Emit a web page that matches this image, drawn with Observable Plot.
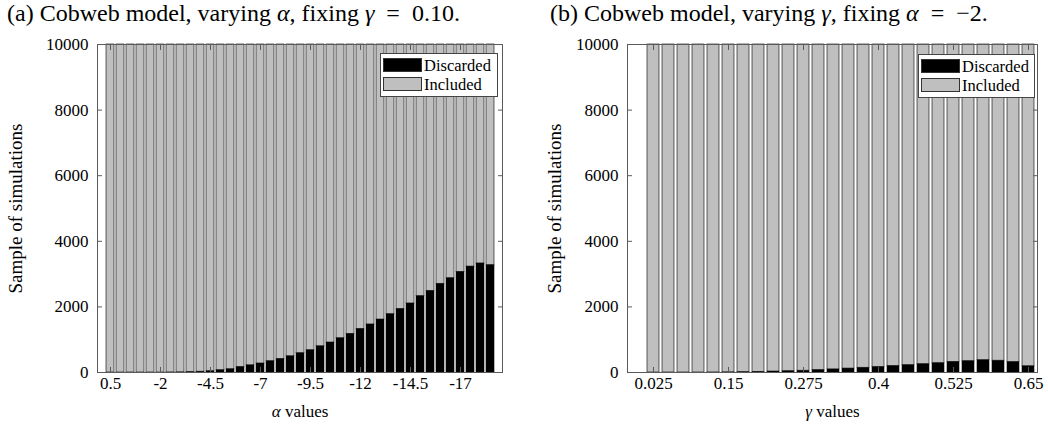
<!DOCTYPE html>
<html>
<head>
<meta charset="utf-8">
<script src="https://cdn.jsdelivr.net/npm/d3@7"></script>
<script src="https://cdn.jsdelivr.net/npm/@observablehq/plot@0.6"></script>
<style>
  html, body { margin: 0; padding: 0; background: #fff; }
  #root { position: relative; width: 1048px; height: 434px; font-family: "Liberation Serif", "Times New Roman", serif; color: #000; overflow: hidden; }
  .title { position: absolute; top: 0; height: 26px; line-height: 26px; font-size: 24px; text-align: left; white-space: nowrap; }
  .panel { position: absolute; top: 26px; width: 524px; height: 408px; }
  .panel svg { font-family: "Liberation Serif", "Times New Roman", serif !important; font-size: 17px !important; }
  .panel svg text { font-family: "Liberation Serif", "Times New Roman", serif !important; }
  .legend { position: absolute; background: #fff; border: 1px solid #444; box-sizing: border-box; font-size: 16.5px; }
  .row { position: absolute; left: 2px; height: 16px; line-height: 16px; white-space: nowrap; }
  .sw { display: inline-block; width: 39px; height: 14px; border: 1px solid #333; vertical-align: top; margin-right: 2px; box-sizing: border-box; }
</style>
</head>
<body>
<div id="root">
  <div class="title" style="left:7px">(a) Cobweb model, varying <i>α</i>, fixing <i>γ</i>&ensp;=&ensp;0.10.</div>
  <div class="title" style="left:550px">(b) Cobweb model, varying <i>γ</i>, fixing <i>α</i>&ensp;=&ensp;−2.</div>
  <div class="panel" id="left" style="left:0px"></div>
  <div class="panel" id="right" style="left:524px"></div>
  <div class="legend" style="left:380px;top:53px;width:118px;height:44px">
    <div class="row" style="top:4px"><span class="sw" style="background:#000"></span>Discarded</div>
    <div class="row" style="top:23px"><span class="sw" style="background:#bfbfbf"></span>Included</div>
  </div>
  <div class="legend" style="left:918px;top:54px;width:117px;height:44px">
    <div class="row" style="top:4px"><span class="sw" style="background:#000"></span>Discarded</div>
    <div class="row" style="top:23px"><span class="sw" style="background:#bfbfbf"></span>Included</div>
  </div>
</div>
<script>
// ---- data ----
const alphaLabels = ["0.5","0","-0.5","-1","-1.5","-2","-2.5","-3","-3.5","-4",
  "-4.5","-5","-5.5","-6","-6.5","-7","-7.5","-8","-8.5","-9",
  "-9.5","-10","-10.5","-11","-11.5","-12","-12.5","-13","-13.5","-14",
  "-14.5","-15","-15.5","-16","-16.5","-17","-17.5","-18","-18.5"];
const alphaDiscarded = [0,0,0,0,0,0,2,5,15,25,
  40,70,100,170,220,275,345,415,495,590,
  680,800,915,1045,1180,1330,1465,1615,1780,1940,
  2105,2330,2490,2705,2875,3070,3230,3325,3275];
const alphaIncluded = [10000,10000,10000,10000,10000,10000,9998,9995,9985,9975,
  9960,9930,9900,9830,9780,9725,9655,9585,9505,9410,
  9320,9200,9085,8955,8820,8670,8535,8385,8220,8060,
  7895,7670,7510,7295,7125,6930,6770,6675,6725];
const alphaTicks = ["0.5","-2","-4.5","-7","-9.5","-12","-14.5","-17"];

const gammaLabels = ["0.025","0.05","0.075","0.1","0.125","0.15","0.175","0.2","0.225","0.25",
  "0.275","0.3","0.325","0.35","0.375","0.4","0.425","0.45","0.475","0.5",
  "0.525","0.55","0.575","0.6","0.625","0.65"];
const gammaDiscarded = [0,0,0,0,2,5,10,20,30,40,
  55,75,95,120,145,170,200,225,255,285,
  325,345,375,360,320,190];
const gammaIncluded = [10000,10000,10000,10000,9998,9995,9990,9980,9970,9960,
  9945,9925,9905,9880,9855,9830,9800,9775,9745,9715,
  9675,9655,9625,9640,9680,9810];
const gammaTicks = ["0.025","0.15","0.275","0.4","0.525","0.65"];

const yTicks = [0,2000,4000,6000,8000,10000];
const seriesNames = ["Discarded","Included"];
const seriesColors = ["#000000","#bfbfbf"];
const yLabel = "Sample of simulations";

function buildTable(labels, disc, incl) {
  const rows = [];
  labels.forEach((l, i) => {
    rows.push({label: l, type: seriesNames[0], value: disc[i]});
    rows.push({label: l, type: seriesNames[1], value: incl[i]});
  });
  return rows;
}

const axisColor = "#5a5a5a";

function makeChart({labels, disc, incl, ticks, xLabel, marginLeft, marginRight, paddingOuter, align, yLabelOffset}) {
  const table = buildTable(labels, disc, incl);
  const chart = Plot.plot({
    width: 524,
    height: 408,
    marginLeft, marginRight,
    marginTop: 18,
    marginBottom: 62,
    style: "font-family: 'Liberation Serif', 'Times New Roman', serif; font-size: 17px; color: #000; background: #fff;",
    x: {type: "band", domain: labels, paddingInner: 0.2, paddingOuter, align},
    y: {domain: [0, 10000]},
    color: {domain: seriesNames, range: seriesColors},
    marks: [
      Plot.barY(table, {x: "label", y: "value", fill: "type", stroke: "#000", strokeWidth: 0.6}),
      Plot.frame({stroke: axisColor, strokeWidth: 1}),
      Plot.axisY({ticks: yTicks, tickFormat: "d", tickSize: -5, tickPadding: 14, stroke: axisColor, fill: "#000",
        label: yLabel, labelAnchor: "center", labelArrow: "none", labelOffset: yLabelOffset}),
      Plot.axisY({anchor: "right", ticks: yTicks, tickSize: -5, tickFormat: () => "", stroke: axisColor, label: null}),
      Plot.axisX({ticks, tickSize: -5, tickPadding: 9, stroke: axisColor, fill: "#000",
        label: xLabel, labelAnchor: "center", labelArrow: "none", labelOffset: 44}),
      Plot.axisX({anchor: "top", ticks, tickSize: -5, tickFormat: () => "", stroke: axisColor, label: null})
    ]
  });
  const ns = "http://www.w3.org/2000/svg";
  chart.querySelectorAll("text").forEach(t => {
    const s = t.textContent;
    if (s === xLabel) {
      // italicize greek letter in axis label
      const letter = s[0];
      t.textContent = "";
      const a = document.createElementNS(ns, "tspan");
      a.setAttribute("font-style", "italic");
      a.textContent = letter;
      const b = document.createElementNS(ns, "tspan");
      b.textContent = s.slice(1);
      t.appendChild(a); t.appendChild(b);
    } else if (s === yLabel) {
      t.style.fontSize = "19px";
    }
  });
  return chart;
}

document.getElementById("left").appendChild(makeChart({
  labels: alphaLabels, disc: alphaDiscarded, incl: alphaIncluded, ticks: alphaTicks,
  xLabel: "α values", marginLeft: 97, marginRight: 22, paddingOuter: 0.1, align: 0.5, yLabelOffset: 89
}));
document.getElementById("right").appendChild(makeChart({
  labels: gammaLabels, disc: gammaDiscarded, incl: gammaIncluded, ticks: gammaTicks,
  xLabel: "γ values", marginLeft: 103, marginRight: 11, paddingOuter: 0.455, align: 0.868, yLabelOffset: 80
}));
</script>
</body>
</html>
